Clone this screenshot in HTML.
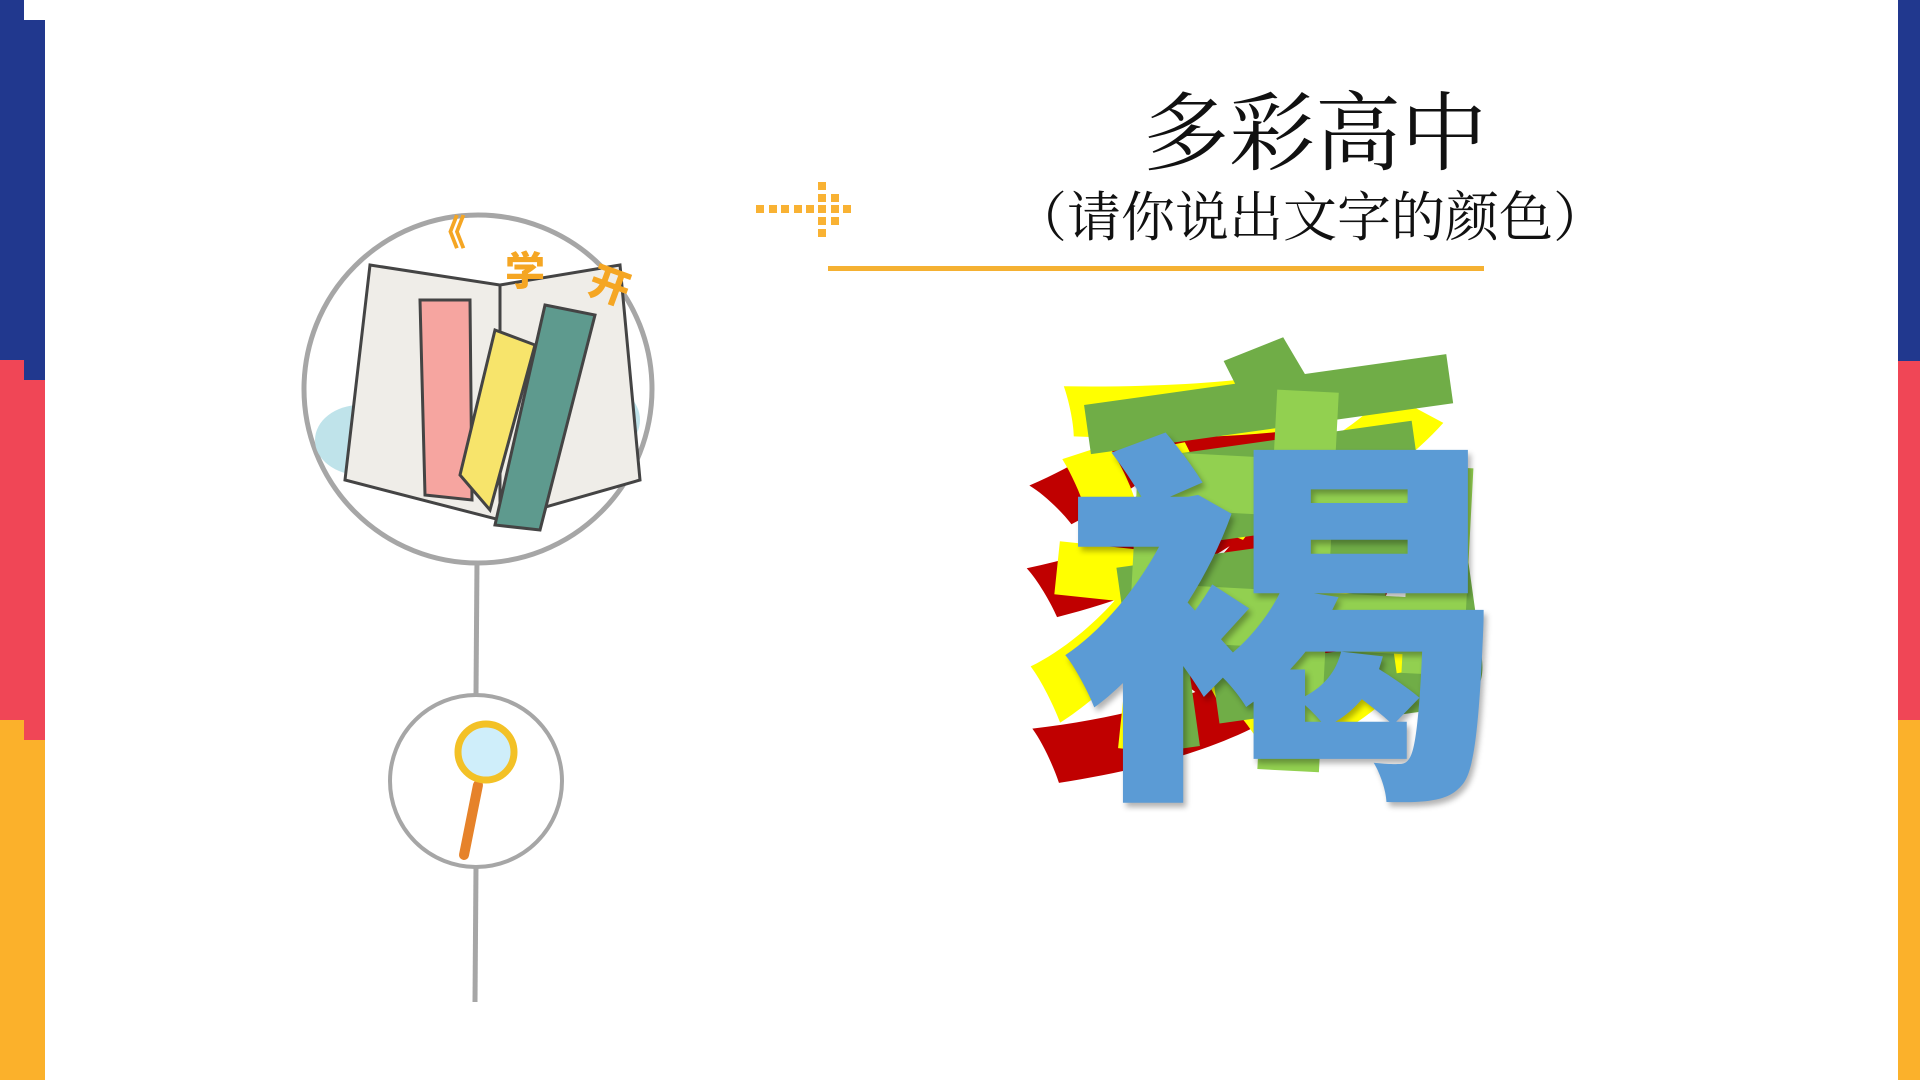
<!DOCTYPE html>
<html><head><meta charset="utf-8"><style>
html,body{margin:0;padding:0}
body{width:1920px;height:1080px;position:relative;overflow:hidden;background:#fff;font-family:"Liberation Serif","Noto Serif CJK SC",serif}
.a{position:absolute}
.sq{position:absolute;width:8px;height:8px;background:#f9b233}
.ch{position:absolute;font-family:"Noto Sans CJK SC",sans-serif;font-weight:900;line-height:1}
</style></head><body>
<!-- left bars -->
<div class="a" style="left:0;top:0;width:24px;height:380px;background:#21388e"></div>
<div class="a" style="left:24px;top:20px;width:21px;height:360px;background:#21388e"></div>
<div class="a" style="left:0;top:360px;width:24px;height:375px;background:#f04656"></div>
<div class="a" style="left:24px;top:380px;width:21px;height:360px;background:#f04656"></div>
<div class="a" style="left:0;top:720px;width:24px;height:360px;background:#fbb12b"></div>
<div class="a" style="left:24px;top:740px;width:21px;height:340px;background:#fbb12b"></div>
<!-- right bars -->
<div class="a" style="left:1898px;top:0;width:22px;height:361px;background:#21388e"></div>
<div class="a" style="left:1898px;top:361px;width:22px;height:359px;background:#f04656"></div>
<div class="a" style="left:1898px;top:720px;width:22px;height:360px;background:#fbb12b"></div>

<!-- titles -->
<div class="a" style="left:1100px;top:84px;width:430px;text-align:center;font-size:86px;line-height:100px;color:#111">多彩高中</div>
<div class="a" style="left:990px;top:186px;width:640px;text-align:center;font-size:54px;line-height:64px;color:#111">（请你说出文字的颜色）</div>
<div class="a" style="left:828px;top:266px;width:656px;height:5px;background:#f5b132"></div>

<!-- dotted arrow -->
<div class="sq" style="left:756px;top:205px"></div><div class="sq" style="left:769px;top:205px"></div>
<div class="sq" style="left:781px;top:205px"></div><div class="sq" style="left:794px;top:205px"></div>
<div class="sq" style="left:806px;top:205px"></div>
<div class="sq" style="left:818px;top:182px"></div><div class="sq" style="left:818px;top:194px"></div>
<div class="sq" style="left:818px;top:205px"></div><div class="sq" style="left:818px;top:217px"></div>
<div class="sq" style="left:818px;top:229px"></div>
<div class="sq" style="left:831px;top:194px"></div><div class="sq" style="left:831px;top:205px"></div>
<div class="sq" style="left:831px;top:217px"></div>
<div class="sq" style="left:843px;top:205px"></div>

<!-- timeline -->
<svg class="a" style="left:0;top:0" width="1920" height="1080">
<line x1="477" y1="560" x2="476" y2="695" stroke="#a6a6a6" stroke-width="5"/>
<line x1="476" y1="866" x2="475" y2="1002" stroke="#a6a6a6" stroke-width="5"/>
<circle cx="478" cy="389" r="174" fill="#fff" stroke="#a6a6a6" stroke-width="5"/>
<circle cx="476" cy="781" r="86" fill="#fff" stroke="#a6a6a6" stroke-width="4"/>
<ellipse cx="360" cy="440" rx="45" ry="35" fill="#bfe3ea"/>
<ellipse cx="600" cy="420" rx="40" ry="35" fill="#bfe3ea"/>
<polygon points="370,265 500,285 500,520 345,480" fill="#efede8" stroke="#444" stroke-width="3"/>
<polygon points="500,285 620,265 640,480 500,520" fill="#efede8" stroke="#444" stroke-width="3"/>
<polygon points="420,300 470,300 472,500 425,495" fill="#f6a5a0" stroke="#444" stroke-width="3"/>
<polygon points="495,330 535,345 490,510 460,475" fill="#f7e46b" stroke="#444" stroke-width="3"/>
<polygon points="545,305 595,315 540,530 495,525" fill="#5e9a8e" stroke="#444" stroke-width="3"/>
<text x="505" y="285" font-size="40" fill="#f5a623" font-family="Noto Sans CJK SC" font-weight="900">学</text>
<text x="590" y="300" font-size="40" fill="#f5a623" font-family="Noto Sans CJK SC" font-weight="900" transform="rotate(20 610 285)">开</text>
<text x="430" y="245" font-size="36" fill="#f5a623" font-family="Noto Sans CJK SC" font-weight="900">《</text>
<line x1="478" y1="785" x2="464" y2="855" stroke="#e6822a" stroke-width="10" stroke-linecap="round"/>
<circle cx="486" cy="752" r="28" fill="#cfeefa" stroke="#f3c126" stroke-width="7"/>
</svg>

<!-- big layered character -->
<div class="ch" style="left:1005px;top:360px;font-size:400px;color:#c00000;transform:rotate(-4deg)">多</div>
<div class="ch" style="left:1040px;top:340px;font-size:410px;color:#ffff00;transform:rotate(6deg)">彩</div>
<div class="ch" style="left:1080px;top:310px;font-size:410px;color:#70ad47;transform:rotate(-8deg)">高</div>
<div class="ch" style="left:1100px;top:360px;font-size:400px;color:#92d050;transform:rotate(3deg)">中</div>
<div class="ch" style="left:1060px;top:405px;font-size:440px;color:#5b9bd5;transform:scaleY(0.88);transform-origin:top left;text-shadow:3px 5px 6px rgba(0,0,0,.3)">褐</div>
</body></html>
